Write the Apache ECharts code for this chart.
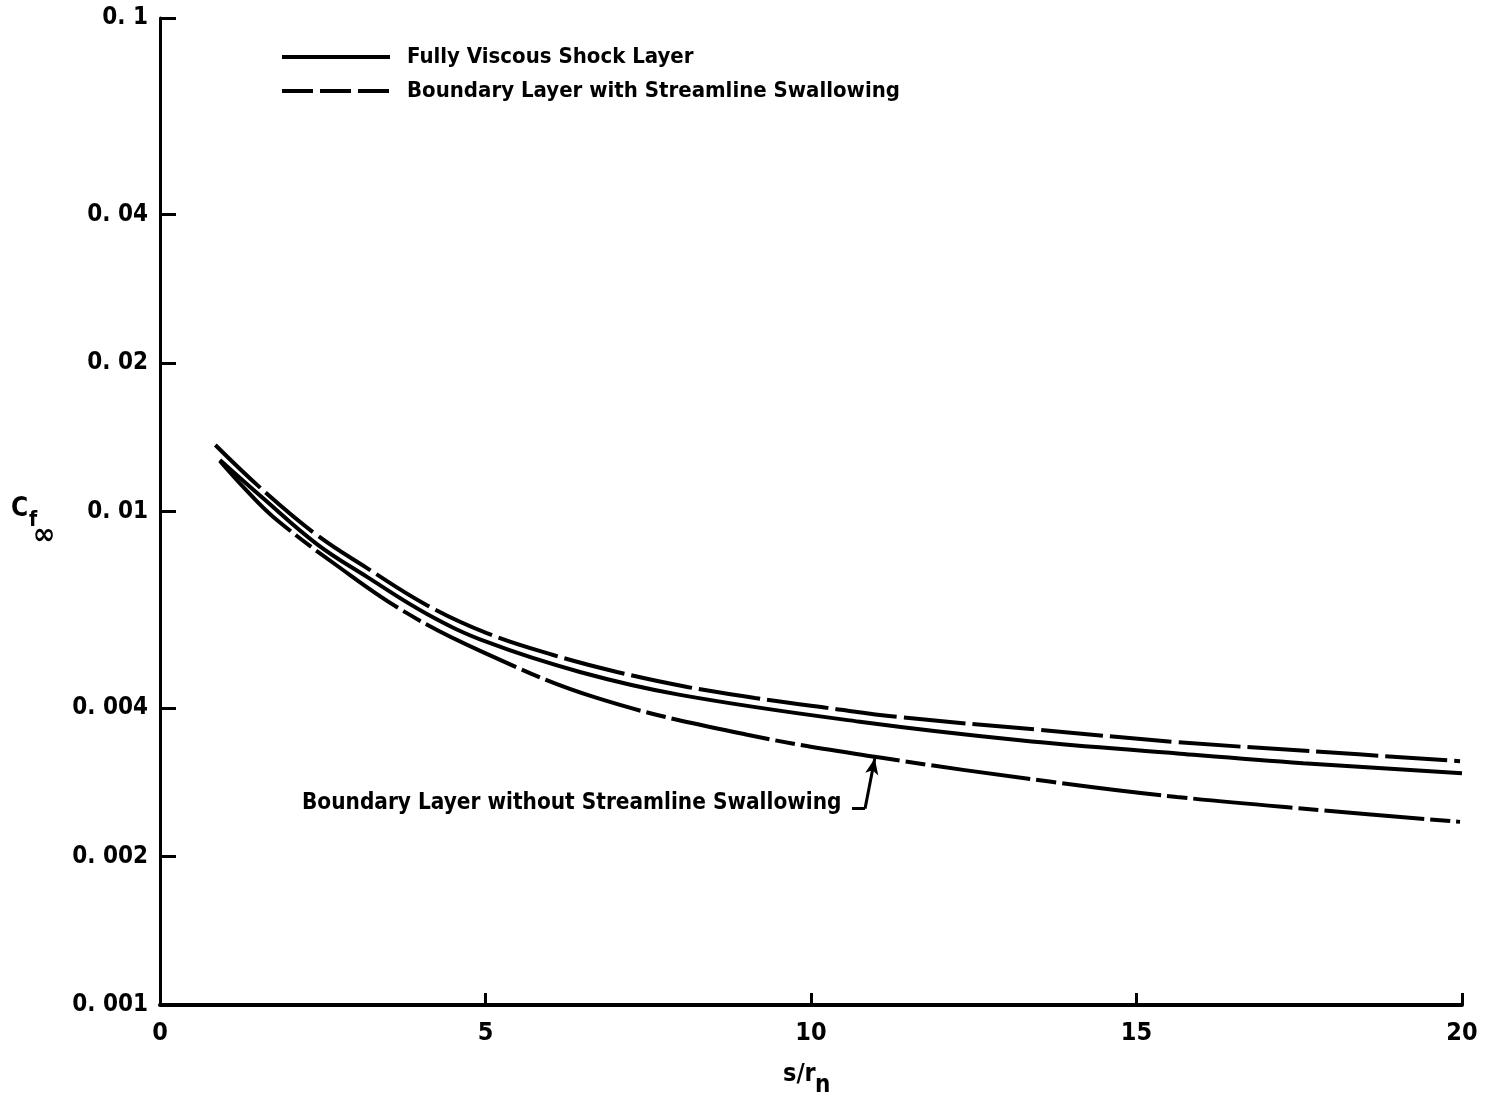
<!DOCTYPE html>
<html>
<head>
<meta charset="utf-8">
<script src="https://cdn.jsdelivr.net/npm/echarts@6/dist/echarts.min.js"></script>
<style>
  html, body { margin: 0; padding: 0; background: #fff; }
  #main { width: 1485px; height: 1103px; }
</style>
</head>
<body>
<div id="main"></div>
<script>
// data (x = s/r_n, y = Cf_inf)
var fullyViscousX = [0.92, 1.58, 2.41, 3.18, 4.10, 5.02, 6.45, 7.99, 10.75, 13.21, 15.67, 17.56, 20.0];
var fullyViscousY = [0.01272, 0.01065, 0.00859, 0.00737, 0.00620, 0.00544, 0.00473, 0.00425, 0.00375, 0.00344, 0.00323, 0.00309, 0.00295];

var withSwallowX = [0.85, 1.58, 2.41, 3.18, 4.10, 5.02, 6.04, 7.02, 8.10, 9.14, 10.25, 11.37, 13.52, 15.62, 17.66, 19.97];
var withSwallowY = [0.01364, 0.01105, 0.00896, 0.00768, 0.00646, 0.00567, 0.00512, 0.00473, 0.00441, 0.00419, 0.00400, 0.00383, 0.00361, 0.00341, 0.00327, 0.00312];

var withoutSwallowX = [0.92, 1.31, 1.74, 2.70, 3.76, 4.96, 6.71, 9.02, 11.01, 13.72, 15.62, 17.87, 19.97];
var withoutSwallowY = [0.01266, 0.01110, 0.00975, 0.00780, 0.00626, 0.00519, 0.00419, 0.00353, 0.00318, 0.00283, 0.00264, 0.00248, 0.00235];

var seriesNames = ['Fully Viscous Shock Layer', 'Boundary Layer with Streamline Swallowing', 'Boundary Layer without Streamline Swallowing'];

var yTicks = [0.001, 0.002, 0.004, 0.01, 0.02, 0.04, 0.1];
var yTickLabels = ['0. 001', '0. 002', '0. 004', '0. 01', '0. 02', '0. 04', '0. 1'];

// annotation arrow (data coords)
var arrowTail = [10.63, 0.0025];
var arrowKnee = [10.83, 0.0025];
var arrowTip = [10.98, 0.00316];

var FONT = '"DejaVu Sans Condensed", sans-serif';

function pairs(xs, ys) {
    var out = [];
    for (var i = 0; i < xs.length; i++) out.push([xs[i], ys[i]]);
    return out;
}

var chart = echarts.init(document.getElementById('main'));

var option = {
    backgroundColor: '#fff',
    animation: false,
    grid: { left: 160, right: 23, top: 18, bottom: 98 },
    legend: {
        orient: 'vertical',
        left: 275,
        top: 39,
        itemWidth: 108,
        itemHeight: 14,
        itemGap: 8,
        itemStyle: { opacity: 0 },
        textStyle: {
            fontFamily: FONT, fontSize: 22, fontWeight: 'bold', color: '#000',
            lineHeight: 26, padding: [0, 0, 0, 12]
        },
        data: [
            { name: seriesNames[0], lineStyle: { type: 'solid', width: 4, color: '#000' } },
            { name: seriesNames[1], lineStyle: { type: [31, 7], width: 4, color: '#000' } }
        ]
    },
    xAxis: {
        type: 'value',
        min: 0, max: 20, interval: 5,
        axisLine: { lineStyle: { color: '#000', width: 4 } },
        axisTick: { inside: true, length: 12, lineStyle: { color: '#000', width: 3 } },
        axisLabel: { fontFamily: FONT, fontSize: 25, fontWeight: 'bold', color: '#000', margin: 16 },
        splitLine: { show: false }
    },
    yAxis: {
        type: 'log',
        logBase: 10,
        min: 0.001, max: 0.1,
        axisLine: { lineStyle: { color: '#000', width: 3 } },
        axisTick: { inside: true, length: 16, customValues: yTicks, lineStyle: { color: '#000', width: 3 } },
        axisLabel: {
            customValues: yTicks,
            fontFamily: FONT, fontSize: 24, fontWeight: 'bold', color: '#000', margin: 12,
            formatter: function (v) {
                for (var i = 0; i < yTicks.length; i++) {
                    if (Math.abs(Math.log10(v) - Math.log10(yTicks[i])) < 1e-6) return yTickLabels[i];
                }
                return '';
            }
        },
        splitLine: { show: false },
        minorTick: { show: false }
    },
    series: [
        {
            name: seriesNames[0],
            type: 'line',
            smooth: 0.4,
            symbol: 'none',
            itemStyle: { color: '#000' },
            lineStyle: { color: '#000', width: 4, type: 'solid' },
            data: pairs(fullyViscousX, fullyViscousY)
        },
        {
            name: seriesNames[1],
            type: 'line',
            smooth: 0.4,
            symbol: 'none',
            itemStyle: { color: '#000' },
            lineStyle: { color: '#000', width: 4, type: [62, 7] },
            data: pairs(withSwallowX, withSwallowY)
        },
        {
            name: seriesNames[2],
            type: 'line',
            smooth: 0.4,
            symbol: 'none',
            itemStyle: { color: '#000' },
            lineStyle: { color: '#000', width: 4, type: [100, 6, 20, 6] },
            data: pairs(withoutSwallowX, withoutSwallowY),
            markLine: {
                silent: true,
                symbol: ['none', 'none'],
                label: { show: false },
                lineStyle: { color: '#000', width: 3, type: 'solid' },
                data: [
                    [{ coord: arrowTail }, { coord: arrowKnee }],
                    [{ coord: arrowKnee }, { coord: arrowTip, symbol: 'arrow', symbolSize: [10, 16] }]
                ]
            }
        }
    ],
    graphic: [
        {
            type: 'text', left: 302, top: 792,
            style: { text: seriesNames[2], font: 'bold 22.4px ' + FONT, fill: '#000' }
        },
        {
            type: 'text', left: 11, top: 496,
            style: { text: 'C', font: 'bold 26px ' + FONT, fill: '#000' }
        },
        {
            type: 'text', left: 29, top: 510,
            style: { text: 'f', font: 'bold 21px ' + FONT, fill: '#000' }
        },
        {
            type: 'text', left: 33, top: 521,
            style: { text: '\u221E', font: 'bold 30px ' + FONT, fill: '#000' }
        },
        {
            type: 'text', left: 783, top: 1062,
            style: { text: 's/r', font: 'bold 25px ' + FONT, fill: '#000' }
        },
        {
            type: 'text', left: 815, top: 1074,
            style: { text: 'n', font: 'bold 24px ' + FONT, fill: '#000' }
        }
    ]
};

chart.setOption(option);
</script>
</body>
</html>
